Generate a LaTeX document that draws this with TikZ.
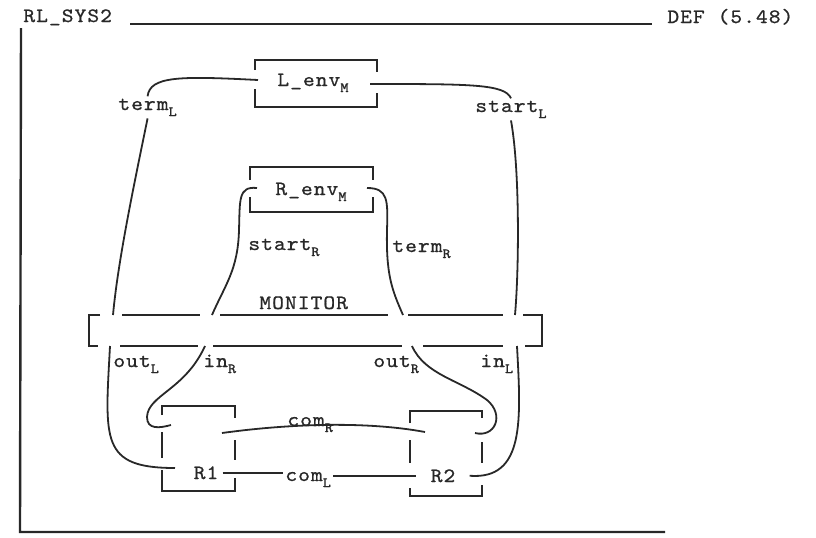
\documentclass[tikz,border=0pt]{standalone}
\usepackage{fontspec}
\usepackage{tikz}
\usetikzlibrary{calc}
\newfontfamily\twfont{Latin Modern Mono}[FakeStretch=1.1, LetterSpace=5, FakeBold=0.8]
\newcommand{\tw}{\twfont\fontsize{10.2}{12}\selectfont}
\newcommand{\idx}[1]{\raisebox{-3pt}{\fontsize{7}{8}\selectfont #1}}
\definecolor{ink}{RGB}{40,40,40}

\begin{document}
\begin{tikzpicture}[x=0.5pt, y=-0.5pt,
    ln/.style={draw=ink, line width=0.9pt},
    frm/.style={draw=ink, line width=1.2pt},
    lbl/.style={font=\tw, text=ink, inner sep=1pt, anchor=base west}
  ]
    \useasboundingbox (0,0) rectangle (816,537);

    % Header and frame
    \node[lbl] (title) at (21,22) {RL\_SYS2};
    \node[lbl] (defno) at (665,23) {DEF (5.48)};
    \draw[ln] (130,24) -- (652,24);
    \draw[frm] (21,28) -- (20,532) -- (665,532);

    % Boxes
    \node[lbl] (lenv) at (275,86)  {L\_env\idx{M}};
    \node[lbl] (renv) at (273,195) {R\_env\idx{M}};
    \node[lbl] (mon)  at (257,309) {MONITOR};
    \node[lbl, anchor=base, inner xsep=2pt] (r1) at (206,479) {R1};
    \node[lbl, anchor=base, inner xsep=7pt] (r2) at (443,482) {R2};

    \draw[ln] (255,70) |- (377,60) -- (377,72);
    \draw[ln] (255,89) |- (377,107) -- (377,93);
    \draw[ln] (250,180) |- (373,167) -- (373,180);
    \draw[ln] (250,197) |- (373,212) -- (373,197);

    \draw[ln] (100,315) -| (89,346) -- (98,346);
    \draw[ln] (523,315) -| (542,346) -- (525,346);
    \foreach \a/\b in {122/200, 220/388, 408/503}
      \draw[ln] (\a,315) -- (\b,315);
    \foreach \a/\b in {120/198, 213/402, 423/503}
      \draw[ln] (\a,346) -- (\b,346);

    \draw[ln] (162,415) |- (235,406) -- (235,418);
    \draw[ln] (162,432) -- (162,458);
    \draw[ln] (235,440) -- (235,460);
    \draw[ln] (162,470) |- (235,491) -- (235,478);
    \draw[ln] (410,423) |- (482,411) -- (482,418);
    \draw[ln] (410,440) -- (410,463);
    \draw[ln] (482,442) -- (482,463);
    \draw[ln] (410,488) |- (482,496) -- (482,485);

    % Channel labels
    \node[lbl] (termL)  at (116,110) {term\idx{L}};
    \node[lbl] (startL) at (473,112) {start\idx{L}};
    \node[lbl] (startR) at (246,250) {start\idx{R}};
    \node[lbl] (termR)  at (390,252) {term\idx{R}};
    \node[lbl] (outL)   at (111,367) {out\idx{L}};
    \node[lbl] (inR)    at (201,367) {in\idx{R}};
    \node[lbl] (outR)   at (371,367) {out\idx{R}};
    \node[lbl] (inL)    at (478,367) {in\idx{L}};
    \node[lbl] (comR)   at (285,426) {com\idx{R}};
    \node[lbl] (comL)   at (283,481) {com\idx{L}};

    % Ports
    \foreach \n/\x/\y in {lenvW/258/80, lenvE/370/84, renvW/257/188, renvE/367/188,
        pTermL/113/315, pStartR/212/315, pTermR/403/315, pStartL/515/315,
        pOutL/110/346, pInR/205/346, pOutR/412/346, pInL/517/346,
        r1In/171/425, r1Out/175/468, r1Com/222/433, r2Com/425/432, r2Out/475/433}
      \coordinate (\n) at (\x,\y);

    % L_env -- MONITOR
    \draw[ln] (lenvW) .. controls (180,76) and (150,76) .. (termL.north);
    \draw[ln] (termL.south) .. controls (135,180) and (118,260) .. (pTermL);
    \draw[ln] (lenvE) .. controls (470,84) and (505,84) .. (startL.north);
    \draw[ln] (startL.south) .. controls (520,170) and (519,270) .. (pStartL);

    % R_env -- MONITOR
    \draw[ln] (renvW) .. controls (238,186) and (240,200) .. (239,230)
      .. controls (238,270) and (225,285) .. (pStartR);
    \draw[ln] (renvE) .. controls (388,188) and (388,200) .. (387,230)
      .. controls (386,275) and (392,290) .. (pTermR);

    % MONITOR -- R1, R2
    \draw[ln] (pOutL) .. controls (105,440) and (100,468) .. (r1Out);
    \draw[ln] (pInR) .. controls (185,390) and (148,395) .. (147,417)
      .. controls (147,430) and (160,428) .. (r1In);
    \draw[ln] (pOutR) .. controls (425,375) and (460,380) .. (487,400)
      .. controls (505,415) and (495,438) .. (r2Out);
    \draw[ln] (pInL) .. controls (521,420) and (525,480) .. (r2.east);

    % R1 -- R2
    \draw[ln] (r1Com) .. controls (280,425) and (360,420) .. (r2Com);
    \draw[ln] (r1.east) -- (comL.west |- r1.east);
    \draw[ln] (comL.east |- r2.west) -- (r2.west);

  \end{tikzpicture}
\end{document}
